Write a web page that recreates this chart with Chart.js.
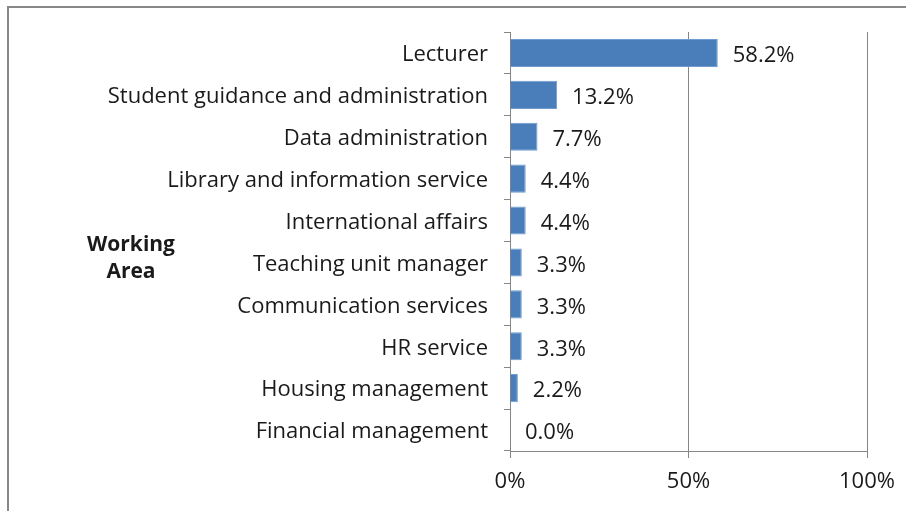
<!DOCTYPE html>
<html>
<head>
<meta charset="utf-8">
<script src="https://cdn.jsdelivr.net/npm/chart.js@4/dist/chart.umd.min.js"></script>
<style>
  html, body { margin: 0; padding: 0; background: #fff; }
  #wrap { width: 906px; height: 511px; position: relative; }
</style>
</head>
<body>
<div id="wrap"><canvas id="barChart" width="906" height="511"></canvas></div>
<script>
var areas = [
  "Lecturer",
  "Student guidance and administration",
  "Data administration",
  "Library and information service",
  "International affairs",
  "Teaching unit manager",
  "Communication services",
  "HR service",
  "Housing management",
  "Financial management",
];
var shares = [58.2, 13.2, 7.7, 4.4, 4.4, 3.3, 3.3, 3.3, 2.2, 0.0];
var xTicks = [0, 50, 100];
var axisTitle = ["Working", "Area"];

var fontFamily = "'Open Sans', 'Noto Sans', sans-serif";
var textColor = "#1a1a1a";
var lineColor = "#868686";

// frame round the whole chart + the bar labels + the axis title
const extras = {
  id: "extras",
  beforeDraw(chart) {
    const ctx = chart.ctx;
    ctx.save();
    ctx.strokeStyle = "#888888";
    ctx.lineWidth = 2;
    ctx.strokeRect(8, 7, 1000, 600);
    ctx.restore();
  },
  afterDatasetsDraw(chart) {
    const ctx = chart.ctx;
    const meta = chart.getDatasetMeta(0);
    ctx.save();
    ctx.font = "22px " + fontFamily;
    ctx.fillStyle = textColor;
    ctx.textAlign = "left";
    ctx.textBaseline = "middle";
    meta.data.forEach((bar, i) => {
      ctx.fillText(shares[i].toFixed(1) + "%", bar.x + 15, bar.y + 3);
    });

    const area = chart.chartArea;
    ctx.font = "bold 21px " + fontFamily;
    ctx.textAlign = "center";
    const cx = 131;
    const cy = (area.top + area.bottom) / 2 + 17;
    ctx.fillText(axisTitle[0], cx, cy - 13);
    ctx.fillText(axisTitle[1], cx, cy + 14);
    ctx.restore();
  },
};

new Chart("barChart", {
  type: "bar",
  data: {
    labels: areas,
    datasets: [
      {
        data: shares,
        backgroundColor: "#4a7ebb",
        borderColor: "#6f9bd0",
        borderWidth: 1,
        categoryPercentage: 0.67,
        barPercentage: 1.0,
      },
    ],
  },
  options: {
    indexAxis: "y",
    responsive: false,
    animation: false,
    layout: { padding: { top: 32, right: 39, left: 0, bottom: 0 } },
    plugins: {
      legend: { display: false },
      tooltip: { enabled: false },
    },
    scales: {
      x: {
        min: 0,
        max: 100,
        afterBuildTicks: (scale) => {
          scale.ticks = xTicks.map((v) => ({ value: v }));
        },
        afterFit: (scale) => {
          scale.height = 60;
        },
        grid: {
          color: lineColor,
          lineWidth: 1,
          drawTicks: true,
          tickLength: 7,
        },
        border: { display: true, color: lineColor },
        ticks: {
          color: textColor,
          font: { family: fontFamily, size: 22 },
          padding: 11,
          maxRotation: 0,
          callback: (v) => v + "%",
        },
      },
      y: {
        afterFit: (scale) => {
          scale.width = 510;
        },
        grid: {
          color: lineColor,
          drawOnChartArea: false,
          drawTicks: true,
          tickLength: 6,
          offset: true,
        },
        border: { display: true, color: lineColor },
        ticks: {
          color: textColor,
          font: { family: fontFamily, size: 22 },
          padding: 16,
          labelOffset: 2,
          autoSkip: false,
        },
      },
    },
  },
  plugins: [extras],
});
</script>
</body>
</html>
